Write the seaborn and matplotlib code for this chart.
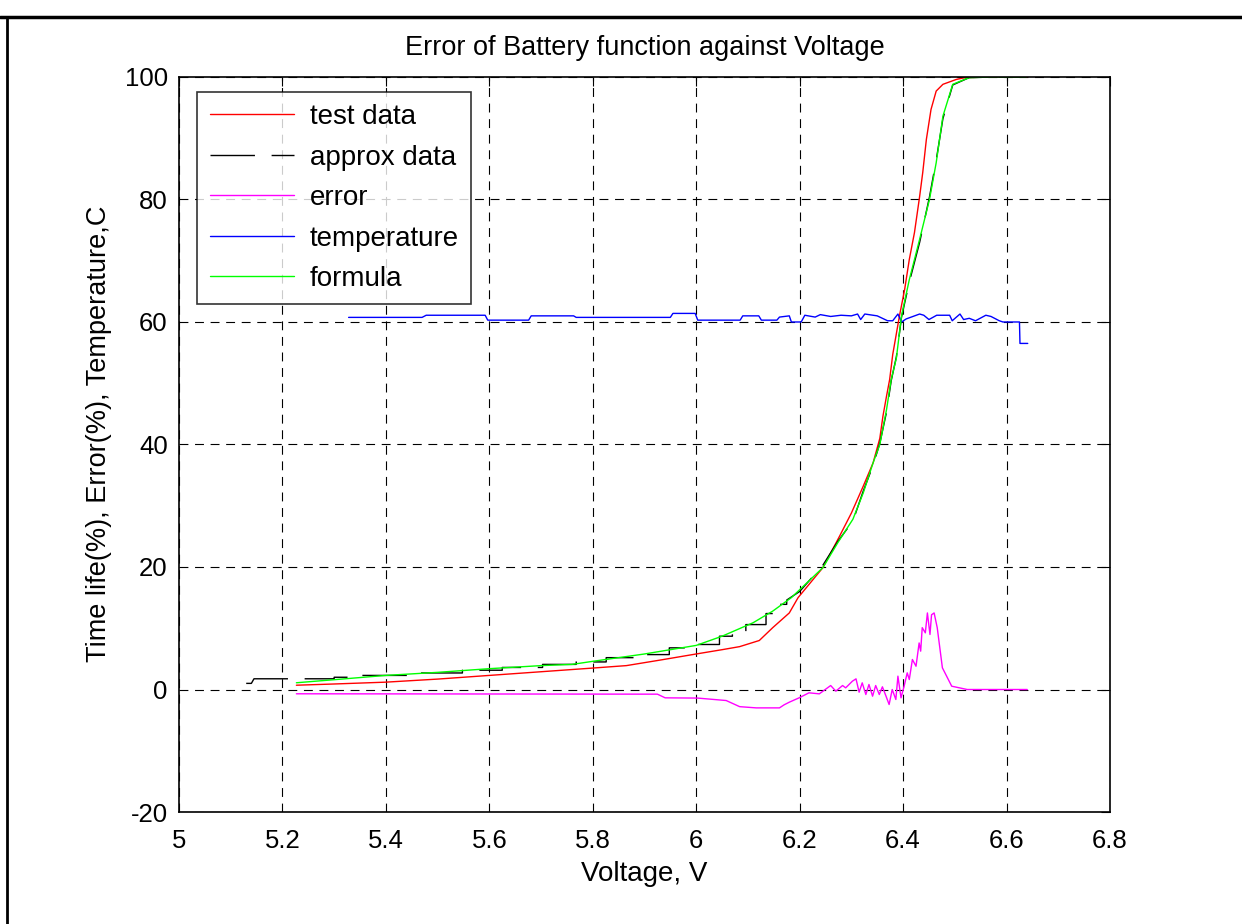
import numpy as np
import pandas as pd
import seaborn as sns
import matplotlib
matplotlib.use('Agg')
import matplotlib.pyplot as plt
from matplotlib.lines import Line2D

# test data (red)
test_v = [5.227, 5.3, 5.4, 5.5, 5.6, 5.7, 5.8, 5.865, 5.93, 6.0, 6.05, 6.084, 6.122, 6.148,
          6.18, 6.197, 6.245, 6.277, 6.3, 6.323, 6.342, 6.355, 6.361, 6.368, 6.374, 6.38,
          6.393, 6.403, 6.412, 6.422, 6.432, 6.438, 6.445, 6.454, 6.464, 6.477, 6.503, 6.52,
          6.58, 6.64]
test_y = [0.7, 0.9, 1.2, 1.7, 2.3, 2.9, 3.5, 3.9, 4.8, 5.8, 6.5, 7.0, 8.0, 10.1,
          12.5, 15.0, 19.9, 25.0, 28.8, 33.2, 37.0, 41.0, 44.6, 47.9, 50.6, 54.7,
          61.0, 65.3, 70.2, 74.6, 80.5, 84.4, 89.8, 94.7, 97.7, 98.8, 99.6, 99.9,
          100.0, 100.0]

# approx data (black, stepped)
approx_v = [5.13, 5.14, 5.145, 5.30, 5.30, 5.35, 5.35, 5.452, 5.452, 5.548, 5.548, 5.625,
            5.625, 5.703, 5.703, 5.768, 5.768, 5.826, 5.826, 5.883, 5.883, 5.948, 5.948,
            6.0, 6.0, 6.045, 6.045, 6.07, 6.07, 6.096, 6.096, 6.135, 6.135, 6.154, 6.154,
            6.175, 6.175, 6.2, 6.245, 6.274, 6.303, 6.323, 6.342, 6.355, 6.368, 6.377,
            6.387, 6.397, 6.412, 6.432, 6.451, 6.464, 6.477, 6.496, 6.528, 6.58, 6.638]
approx_y = [1.0, 1.0, 1.75, 1.75, 2.0, 2.0, 2.3, 2.3, 2.7, 2.7, 3.15, 3.15,
            3.6, 3.6, 4.1, 4.1, 4.5, 4.5, 5.2, 5.2, 5.7, 5.7, 6.8,
            6.8, 7.35, 7.35, 8.7, 8.7, 9.5, 9.5, 10.6, 10.6, 12.4, 12.4, 13.9,
            13.9, 14.6, 16.0, 20.3, 24.2, 27.5, 32.4, 36.6, 40.2, 45.3, 50.4,
            54.3, 60.8, 66.5, 73.0, 80.4, 86.4, 93.2, 98.7, 99.9, 100.0, 100.0]

# error (magenta)
error_v = [5.227, 5.925, 5.94, 6.003, 6.058, 6.084, 6.116, 6.161, 6.17, 6.18, 6.199,
           6.218, 6.238, 6.260, 6.270, 6.283, 6.289, 6.302, 6.309, 6.315, 6.321, 6.328,
           6.334, 6.341, 6.347, 6.354, 6.360, 6.367, 6.373, 6.379, 6.386, 6.390, 6.396,
           6.402, 6.408, 6.412, 6.418, 6.425, 6.431, 6.434, 6.437, 6.443, 6.447, 6.452,
           6.455, 6.460, 6.466, 6.476, 6.494, 6.524, 6.640]
error_y = [-0.7, -0.76, -1.36, -1.4, -1.8, -2.8, -3.0, -3.0, -2.5, -2.07, -1.36,
           -0.54, -0.71, 0.65, -0.27, 0.65, 0.27, 1.36, 1.74, -0.44, 1.09, -0.82,
           0.82, -1.09, 0.65, -0.82, 0.44, -1.09, -2.45, 0.0, -1.63, 2.18, -1.36,
           0.54, 2.72, 1.63, 4.9, 3.8, 7.6, 6.26, 10.1, 9.25, 12.5, 8.98,
           12.2, 12.5, 10.1, 3.54, 0.54, 0.0, 0.0]

# temperature (blue)
temp_v = [5.328, 5.47, 5.478, 5.592, 5.597, 5.676, 5.681, 5.763, 5.768, 5.95, 5.955,
          5.998, 6.003, 6.085, 6.09, 6.121, 6.126, 6.156, 6.161, 6.18, 6.184, 6.203,
          6.21, 6.23, 6.24, 6.26, 6.28, 6.30, 6.312, 6.318, 6.326, 6.35, 6.37, 6.38,
          6.39, 6.397, 6.406, 6.432, 6.44, 6.45, 6.465, 6.49, 6.495, 6.51, 6.517,
          6.528, 6.54, 6.56, 6.57, 6.586, 6.593, 6.625, 6.626, 6.641]
temp_y = [60.75, 60.75, 61.1, 61.1, 60.3, 60.3, 61.0, 61.0, 60.75, 60.75, 61.4,
          61.4, 60.3, 60.3, 61.0, 61.0, 60.3, 60.3, 60.8, 61.0, 60.0, 60.0,
          61.1, 60.8, 61.2, 60.9, 61.1, 61.0, 61.3, 60.4, 61.3, 61.0, 60.2, 60.2,
          61.3, 60.0, 60.5, 61.3, 61.1, 60.4, 61.1, 61.1, 60.2, 61.3, 60.4,
          60.6, 60.2, 61.1, 60.9, 60.2, 60.0, 60.0, 56.5, 56.5]

# formula (green)
formula_v = [5.227, 5.3, 5.4, 5.5, 5.6, 5.7, 5.76, 5.8, 5.9, 6.0, 6.05, 6.11, 6.148,
             6.184, 6.245, 6.274, 6.303, 6.323, 6.342, 6.355, 6.368, 6.377, 6.387,
             6.397, 6.412, 6.432, 6.451, 6.464, 6.477, 6.496, 6.528, 6.58, 6.638]
formula_y = [1.1, 1.6, 2.3, 2.8, 3.4, 3.9, 4.1, 4.6, 5.8, 7.2, 8.7, 10.9, 12.8,
             15.0, 19.9, 24.0, 27.8, 32.1, 37.0, 40.0, 45.7, 50.6, 54.1,
             61.0, 66.9, 73.5, 80.0, 86.0, 93.6, 98.8, 99.9, 100.0, 100.0]

x_ticks = [5, 5.2, 5.4, 5.6, 5.8, 6, 6.2, 6.4, 6.6, 6.8]
x_labels = ['5', '5.2', '5.4', '5.6', '5.8', '6', '6.2', '6.4', '6.6', '6.8']
y_ticks = [-20, 0, 20, 40, 60, 80, 100]

sns.set_style("white")
plt.rcParams['font.family'] = ['Liberation Sans', 'DejaVu Sans']
plt.rcParams['axes.unicode_minus'] = False
for k in ['text.color', 'axes.labelcolor', 'xtick.color', 'ytick.color']:
    plt.rcParams[k] = 'black'

fig = plt.figure(figsize=(12.42, 9.24), dpi=100)
ax = fig.add_axes([0.1441, 0.1212, 0.7496, 0.7955])

series = [
    (test_v, test_y, '#ff0000', 'test data', '-'),
    (approx_v, approx_y, '#000000', 'approx data', (0, (32, 12))),
    (error_v, error_y, '#ff00ff', 'error', '-'),
    (temp_v, temp_y, '#0000ff', 'temperature', '-'),
    (formula_v, formula_y, '#00ff00', 'formula', '-'),
]
for xs, ys, col, lab, ls in series:
    df = pd.DataFrame({'v': xs, 'y': ys})
    sns.lineplot(data=df, x='v', y='y', color=col, label=lab, linestyle=ls,
                 linewidth=1.0, sort=False, estimator=None, ax=ax)

ax.set_xlim(5, 6.8)
ax.set_ylim(-20, 100)
ax.set_xticks(x_ticks)
ax.set_xticklabels(x_labels)
ax.set_yticks(y_ticks)
ax.grid(True, color='black', linestyle=(0, (8, 6)), linewidth=0.8)
ax.tick_params(direction='in', length=6.5, width=0.8, top=True, right=True,
               labelsize=18.5)
ax.tick_params(axis='x', pad=12)
ax.tick_params(axis='y', pad=8)
for s in ax.spines.values():
    s.set_color('black')
    s.set_linewidth(1.2)

ax.set_title('Error of Battery function against Voltage', fontsize=19.5, pad=16)
ax.set_xlabel('Voltage, V', fontsize=20, labelpad=6)
ax.set_ylabel('Time life(%), Error(%), Temperature,C', fontsize=19.5)
ax.yaxis.set_label_coords(-0.072, 0.515)

leg = ax.legend(loc='upper left', bbox_to_anchor=(0.0195, 0.98), fontsize=20,
                frameon=True, fancybox=False, handlelength=3.05, handletextpad=0.55,
                borderpad=0.45, labelspacing=0.52, borderaxespad=0.0)
leg.get_frame().set_edgecolor('black')
leg.get_frame().set_linewidth(1.2)
for h in leg.get_lines():
    h.set_linewidth(1.0)

# screenshot border
fig.add_artist(Line2D([0, 1], [1 - 17 / 924, 1 - 17 / 924], color='black', linewidth=2.5,
                      transform=fig.transFigure))
fig.add_artist(Line2D([7 / 1242, 7 / 1242], [0, 1 - 17 / 924], color='black', linewidth=2.0,
                      transform=fig.transFigure))

fig.savefig('out.png', dpi=100, facecolor='white')
